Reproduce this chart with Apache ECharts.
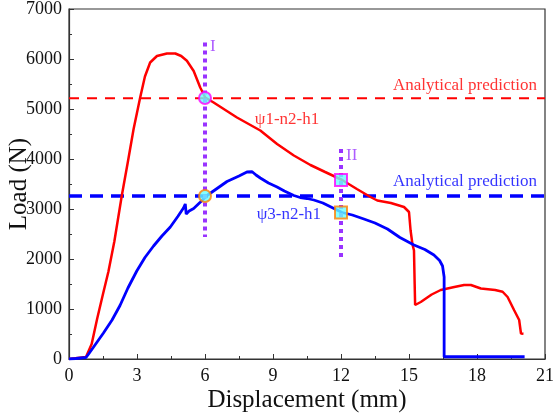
<!DOCTYPE html>
<html><head><meta charset="utf-8">
<script src="https://cdn.jsdelivr.net/npm/echarts@6/dist/echarts.min.js"></script>
<style>html,body{margin:0;padding:0;background:#fff}#c{width:554px;height:413px}</style>
</head><body><div id="c"></div>
<script>
// Data (displacement mm, load N)
const red_x = [0,0.75,1.0,1.24,1.5,1.74,2.0,2.33,2.6,2.85,3.14,3.35,3.58,3.88,4.32,4.69,4.95,5.2,5.5,5.79,6.01,6.38,7.41,8.44,9.18,9.92,10.65,11.3,12.05,12.7,13.3,13.6,14.2,14.78,15.0,15.07,15.15,15.22,15.25,15.27,15.52,16.0,16.4,17.0,17.43,17.73,18.17,18.8,19.13,19.35,19.64,19.86,19.94,20.05];
const red_y = [0,40,300,800,1300,1750,2350,3270,3950,4600,5230,5650,5930,6060,6110,6110,6060,5965,5760,5430,5230,5130,4830,4570,4300,4070,3880,3740,3580,3400,3240,3170,3120,3040,2940,2570,2300,2170,1500,1080,1140,1290,1380,1440,1480,1480,1410,1380,1345,1240,975,780,510,505];
const blue_x = [0,0.3,0.75,0.85,1.1,1.52,1.9,2.25,2.6,2.99,3.35,3.73,4.1,4.47,4.8,5.05,5.13,5.17,5.3,5.5,5.8,6.09,6.5,6.97,7.5,7.85,8.08,8.25,8.44,8.8,9.18,9.5,9.92,10.2,10.5,10.8,11.2,11.69,12.05,12.5,13.01,13.5,14.05,14.6,15.22,15.7,16.1,16.35,16.48,16.55,16.55,20.1];
const blue_y = [0,10,30,90,250,520,780,1070,1420,1760,2030,2260,2460,2640,2850,3020,3100,2900,2960,3010,3140,3270,3400,3550,3660,3740,3745,3680,3620,3520,3440,3360,3270,3230,3210,3180,3120,3010,2930,2880,2800,2720,2600,2430,2280,2190,2080,1970,1860,1640,45,45];
const pred_red = 5215;
const pred_blue = 3260;
const lineI_x = 6, lineI_y = [6330, 2440];
const lineII_x = 12, lineII_y = [4200, 1975];
const markI = [[6,5220],[6,3260]];
const markII = [[12,3580],[12,2930]];
const x_ticks = [0,3,6,9,12,15,18,21];
const y_ticks = [0,1000,2000,3000,4000,5000,6000,7000];
const labels_red = [{text:'Analytical prediction', at:[17.47,5470]},{text:'ψ1-n2-h1', at:[9.62,4790]}];
const labels_blue = [{text:'Analytical prediction', at:[17.47,3540]},{text:'ψ3-n2-h1', at:[9.7,2880]}];
const labels_purple = [{text:'I', at:[6.34,6250]},{text:'II', at:[12.47,4070]}];

const FONT = '"Times New Roman","Liberation Serif",serif';
const zip = (a,b)=>a.map((v,i)=>[v,b[i]]);
const textSeries = (arr,color)=>({
  type:'scatter', symbolSize:0, silent:true, z:6,
  data: arr.map(l=>({value:l.at, name:l.text})),
  label:{show:true, position:'inside', formatter:p=>p.name, color:color, fontFamily:FONT, fontSize:17}
});
const chart = echarts.init(document.getElementById('c'));
chart.setOption({
  animation:false,
  grid:{left:69,right:9,top:9,bottom:54,containLabel:false,outerBoundsMode:'none',show:true,borderColor:'#333',borderWidth:1.2},
  xAxis:{type:'value',min:0,max:21,interval:3,
    name:'Displacement (mm)',nameLocation:'middle',nameGap:29,nameMoveOverlap:false,
    nameTextStyle:{fontFamily:FONT,fontSize:25,color:'#111'},
    axisLine:{lineStyle:{color:'#333',width:1.2}},
    axisTick:{inside:true,length:5,lineStyle:{color:'#333'}},
    minorTick:{show:true,splitNumber:2,length:3,lineStyle:{color:'#333'}},
    axisLabel:{fontFamily:FONT,fontSize:18,color:'#111',margin:8,formatter:v=>x_ticks.includes(v)?String(v):''},
    splitLine:{show:false}},
  yAxis:{type:'value',min:0,max:7000,interval:1000,
    name:'Load (N)',nameLocation:'middle',nameGap:37,nameRotate:90,nameMoveOverlap:false,
    nameTextStyle:{fontFamily:FONT,fontSize:25,color:'#111'},
    axisLine:{show:true,lineStyle:{color:'#333',width:1.2}},
    axisTick:{show:true,inside:true,length:5,lineStyle:{color:'#333'}},
    minorTick:{show:true,splitNumber:2,length:3,lineStyle:{color:'#333'}},
    axisLabel:{fontFamily:FONT,fontSize:18,color:'#111',margin:7,formatter:v=>y_ticks.includes(v)?String(v):''},
    splitLine:{show:false}},
  series:[
    {type:'line',data:[[0,pred_red],[21,pred_red]],symbol:'none',z:2,lineStyle:{color:'#ff0000',width:2,type:[10,8]}},
    {type:'line',data:[[0,pred_blue],[21,pred_blue]],symbol:'none',z:2,lineStyle:{color:'#0000ff',width:3.5,type:[13,8]}},
    {type:'line',data:zip(red_x,red_y),symbol:'none',z:3,lineStyle:{color:'#ff0000',width:2.5}},
    {type:'line',data:zip(blue_x,blue_y),symbol:'none',z:3,lineStyle:{color:'#0000ff',width:2.8}},
    {type:'line',data:lineI_y.map(y=>[lineI_x,y]),symbol:'none',z:4,lineStyle:{color:'#9933ff',width:4,type:[4,4]}},
    {type:'line',data:lineII_y.map(y=>[lineII_x,y]),symbol:'none',z:4,lineStyle:{color:'#9933ff',width:4,type:[4,4]}},
    {type:'scatter',z:5,symbol:'circle',symbolSize:12,data:[
      {value:markI[0],itemStyle:{color:'#66ffff',borderColor:'#ff00ff',borderWidth:2}},
      {value:markI[1],itemStyle:{color:'#66ffff',borderColor:'#ff8000',borderWidth:2}}]},
    {type:'scatter',z:5,symbol:'rect',symbolSize:12,data:[
      {value:markII[0],itemStyle:{color:'#66ffff',borderColor:'#ff00ff',borderWidth:2}},
      {value:markII[1],itemStyle:{color:'#66ffff',borderColor:'#ff8000',borderWidth:2}}]},
    textSeries(labels_red,'#ff0000'),
    textSeries(labels_blue,'#0000ff'),
    textSeries(labels_purple,'#9933ff')
  ]
});
</script></body></html>
